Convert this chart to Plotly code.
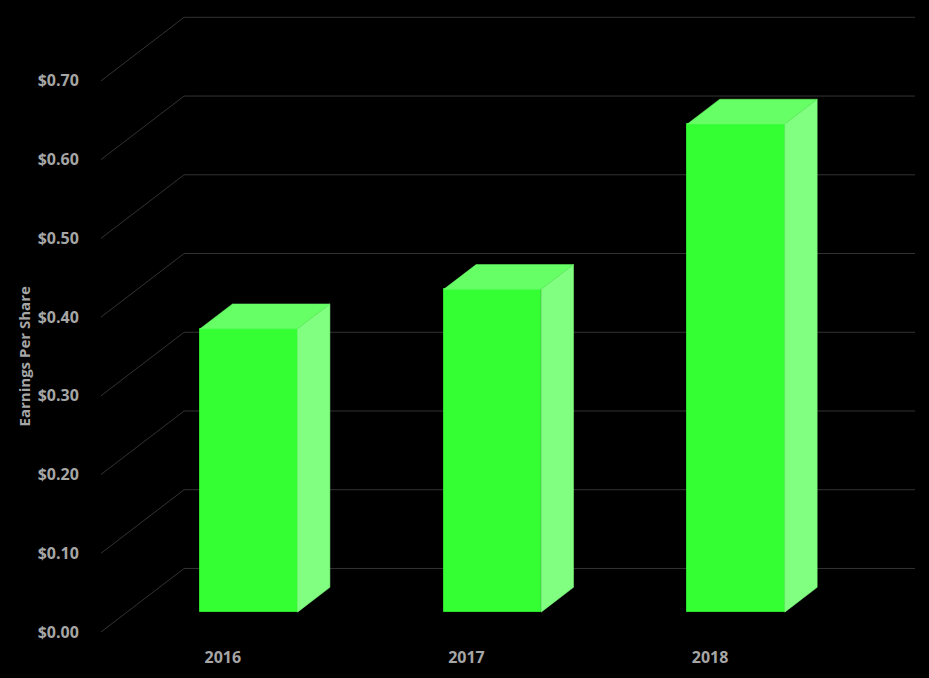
import plotly.graph_objects as go

years = ["2016", "2017", "2018"]
eps = [0.36, 0.41, 0.62]
y_ticks = [0.0, 0.1, 0.2, 0.3, 0.4, 0.5, 0.6, 0.7]
y_labels = [f"${v:.2f}" for v in y_ticks]

# fake 3d: oblique offset of the full chart depth, in axis units
DEPTH_X = 0.341
DEPTH_Y = 0.0807
BAR_FRONT = 0.3125   # depth fraction where the bar front face sits
BAR_DEPTH = 0.39     # depth fraction taken by a bar
BAR_W = 0.4

FRONT = "#33ff33"
TOP = "#66ff66"
SIDE = "#80ff80"
GRID = "#333333"
TEXT = "#a6a6a6"

fig = go.Figure()

# back wall gridlines + left wall diagonals, kept under the bars
x_left, x_right = -0.5, len(years) - 0.5
for v in y_ticks:
    fig.add_shape(type="line", xref="x", yref="y", layer="below",
                  x0=x_left, y0=v, x1=x_left + DEPTH_X, y1=v + DEPTH_Y,
                  line=dict(color=GRID, width=1))
    fig.add_shape(type="line", xref="x", yref="y", layer="below",
                  x0=x_left + DEPTH_X, y0=v + DEPTH_Y, x1=x_right + DEPTH_X, y1=v + DEPTH_Y,
                  line=dict(color=GRID, width=1))

sx = BAR_DEPTH * DEPTH_X
sy = BAR_DEPTH * DEPTH_Y
base = BAR_FRONT * DEPTH_Y
centers = [i + BAR_FRONT * DEPTH_X for i in range(len(years))]

side_x, side_y, top_x, top_y = [], [], [], []
for c, v in zip(centers, eps):
    l, r = c - BAR_W / 2, c + BAR_W / 2
    side_x += [r, r + sx, r + sx, r, r, None]
    side_y += [base, base + sy, base + v + sy, base + v, base, None]
    top_x += [l, r, r + sx, l + sx, l, None]
    top_y += [base + v, base + v, base + v + sy, base + v + sy, base + v, None]

fig.add_trace(go.Scatter(x=side_x, y=side_y, mode="lines", fill="toself", fillcolor=SIDE,
                         line=dict(color=SIDE, width=0.5), hoverinfo="skip", showlegend=False))
fig.add_trace(go.Scatter(x=top_x, y=top_y, mode="lines", fill="toself", fillcolor=TOP,
                         line=dict(color=TOP, width=0.5), hoverinfo="skip", showlegend=False))
fig.add_trace(go.Bar(x=centers, y=eps, base=base, width=BAR_W,
                     marker=dict(color=FRONT, line=dict(color="#2ee02e", width=1)),
                     customdata=years, hovertemplate="%{customdata}: $%{y:.2f}<extra></extra>",
                     showlegend=False))

fig.add_annotation(text="Earnings Per Share", textangle=-90, xref="paper", x=0, xshift=-89,
                   yref="y", y=(y_ticks[0] + y_ticks[-1]) / 2, showarrow=False,
                   font=dict(family="Open Sans", size=15, color=TEXT, weight="bold"))

fig.update_layout(
    width=929, height=678,
    margin=dict(l=101, r=14, t=10, b=42),
    paper_bgcolor="black", plot_bgcolor="black",
    bargap=0,
    font=dict(family="Open Sans", color=TEXT),
    xaxis=dict(range=[x_left, x_right + DEPTH_X], tickvals=list(range(len(years))), ticktext=years,
               showgrid=False, zeroline=False, showline=False,
               ticks="outside", ticklen=11, tickcolor="rgba(0,0,0,0)",
               tickfont=dict(size=16, color=TEXT, weight="bold")),
    yaxis=dict(range=[0, 0.79], tickvals=y_ticks, ticktext=y_labels,
               showgrid=False, zeroline=False, showline=False,
               ticks="outside", ticklen=18, tickcolor="rgba(0,0,0,0)",
               tickfont=dict(size=16, color=TEXT, weight="bold")),
)

fig.write_html("out.html", config={"displayModeBar": False},
               post_script="document.body.style.margin = '0';")
